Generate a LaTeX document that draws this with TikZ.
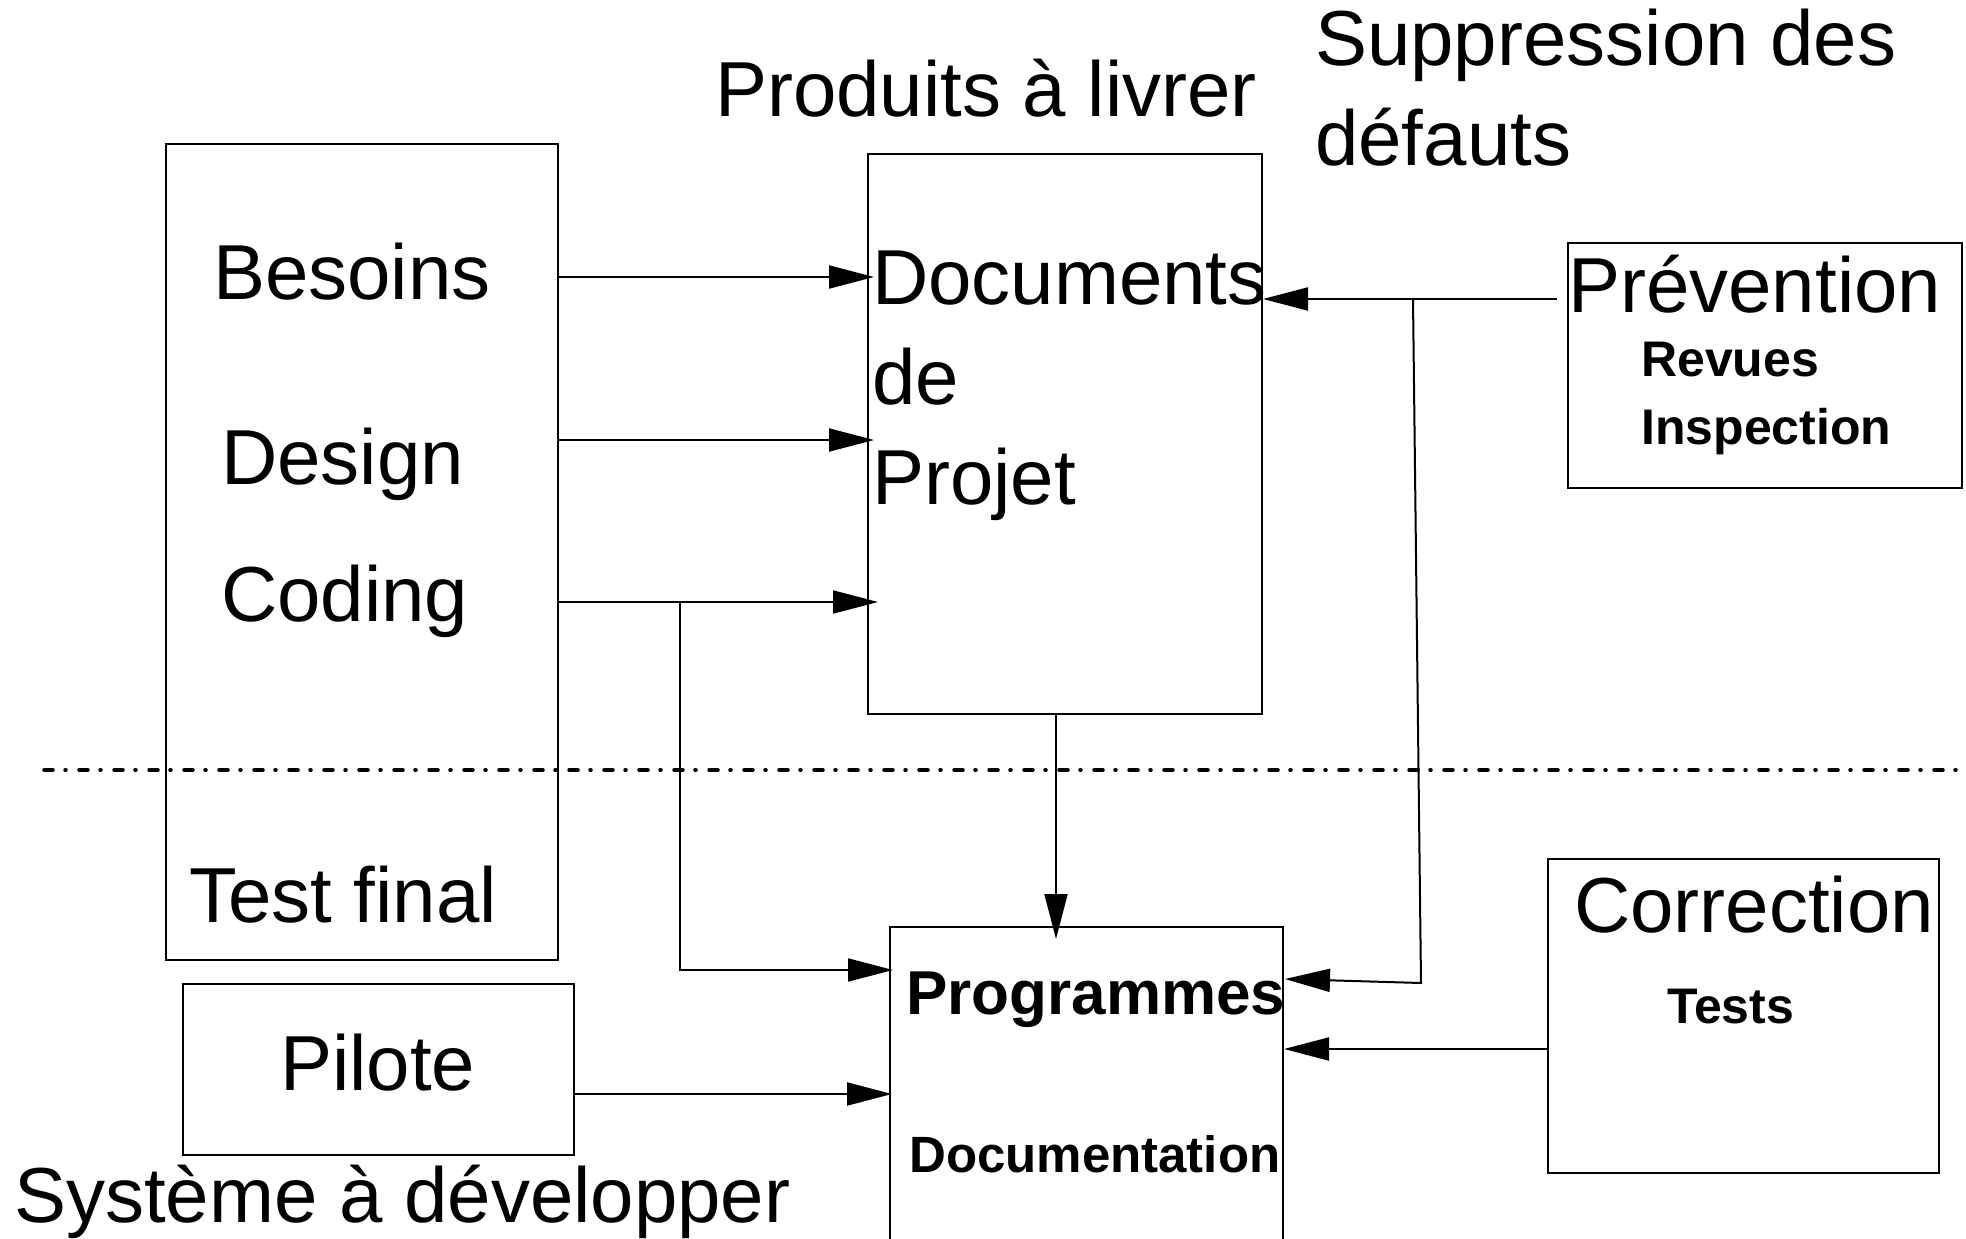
\documentclass[tikz,border=0pt]{standalone}
\usepackage{fontspec}
\setmainfont{Liberation Sans}
\usetikzlibrary{arrows.meta}
\tikzset{
  box/.style={draw, line width=2pt, inner sep=0pt, anchor=north west},
  lbl/.style={anchor=base west, inner sep=0pt, font=\fontsize{78}{96}\selectfont},
  blbl/.style={anchor=base west, inner sep=0pt, font=\fontsize{50}{60}\selectfont\bfseries},
  arr/.style={line width=2pt, -{Triangle[length=45pt,width=23pt]}},
  ln/.style={line width=2pt},
  dashdot line/.style={line width=3.5pt, line cap=round, dash pattern=on 9pt off 12pt on 1pt off 13pt}
}
\begin{document}
\begin{tikzpicture}[x=1pt,y=-1pt]
\useasboundingbox (0,0) rectangle (1966,1239);
\clip (0,0) rectangle (1966,1239);
% boxes
\node[box, minimum width=392pt, minimum height=816pt] (left) at (165,143) {};
\node[box, minimum width=394pt, minimum height=560pt] (docs) at (867,153) {};
\node[box, minimum width=394pt, minimum height=245pt] (prev) at (1567,242) {};
\node[box, minimum width=391pt, minimum height=314pt] (corr) at (1547,858) {};
\node[box, minimum width=391pt, minimum height=171pt] (pil) at (182,983) {};
\node[box, minimum width=393pt, minimum height=330pt] (prog) at (889,926) {};
% separator
\coordinate (sepL) at (44,770);
\coordinate (sepR) at (1966,770);
\draw[dashdot line] (sepL) -- (sepR);
% texts
\node[lbl] (t1) at (715,116) {Produits à livrer};
\node[lbl] (t2) at (1315,66) {Suppression des};
\node[lbl] (t3) at (1315,165) {défauts};
\node[lbl] (tb) at (213,299) {Besoins};
\node[lbl] (td) at (221,484) {Design};
\node[lbl] (tc) at (221,621) {Coding};
\node[lbl] (tf) at (189,922) {Test final};
\node[lbl] (d1) at (872,304) {Documents};
\node[lbl] (d2) at (872,404) {de};
\node[lbl] (d3) at (872,504) {Projet};
\node[lbl] (pv) at (1568,312) {Prévention};
\node[blbl] (rv) at (1641,376) {Revues};
\node[blbl] (ins) at (1641,444) {Inspection};
\node[lbl] (co) at (1574,932) {Correction};
\node[blbl] (ts) at (1667,1023) {Tests};
\node[lbl] (pl) at (280,1090) {Pilote};
\node[anchor=base west, inner sep=0pt, font=\fontsize{62}{72}\selectfont\bfseries] (pg) at (906,1014) {Programmes};
\node[anchor=base west, inner sep=0pt, font=\fontsize{51}{60}\selectfont\bfseries] (dc) at (909,1172) {Documentation};
\node[lbl] (sy) at (14,1222) {Système à développer};
% connector coordinates
\coordinate (b1) at (left.east |- 0,277);
\coordinate (b2) at (874,277);
\coordinate (e1) at (left.east |- 0,440);
\coordinate (e2) at (874,440);
\coordinate (c1) at (left.east |- 0,602);
\coordinate (c2) at (878,602);
\coordinate (cj) at (680,602);
\coordinate (cd) at (680,970);
\coordinate (c3) at (893,970);
\coordinate (dd) at (docs.south -| 1056,0);
\coordinate (d4) at (1056,939);
\coordinate (p1) at (1557,299);
\coordinate (p2) at (docs.east |- 0,299);
\coordinate (pj) at (1413,299);
\coordinate (pd) at (1421,983);
\coordinate (p3) at (1285,979);
\coordinate (r1) at (1548,1049);
\coordinate (r2) at (prog.east |- 0,1049);
\coordinate (l1) at (pil.east |- 0,1094);
\coordinate (l2) at (892,1094);
% connectors
\draw[arr] (b1) -- (b2);
\draw[arr] (e1) -- (e2);
\draw[arr] (c1) -- (c2);
\draw[arr] (cj) -- (cd) -- (c3);
\draw[arr] (dd) -- (d4);
\draw[arr] (p1) -- (p2);
\draw[arr] (pj) -- (pd) -- (p3);
\draw[arr] (r1) -- (r2);
\draw[arr] (l1) -- (l2);
\end{tikzpicture}
\end{document}
